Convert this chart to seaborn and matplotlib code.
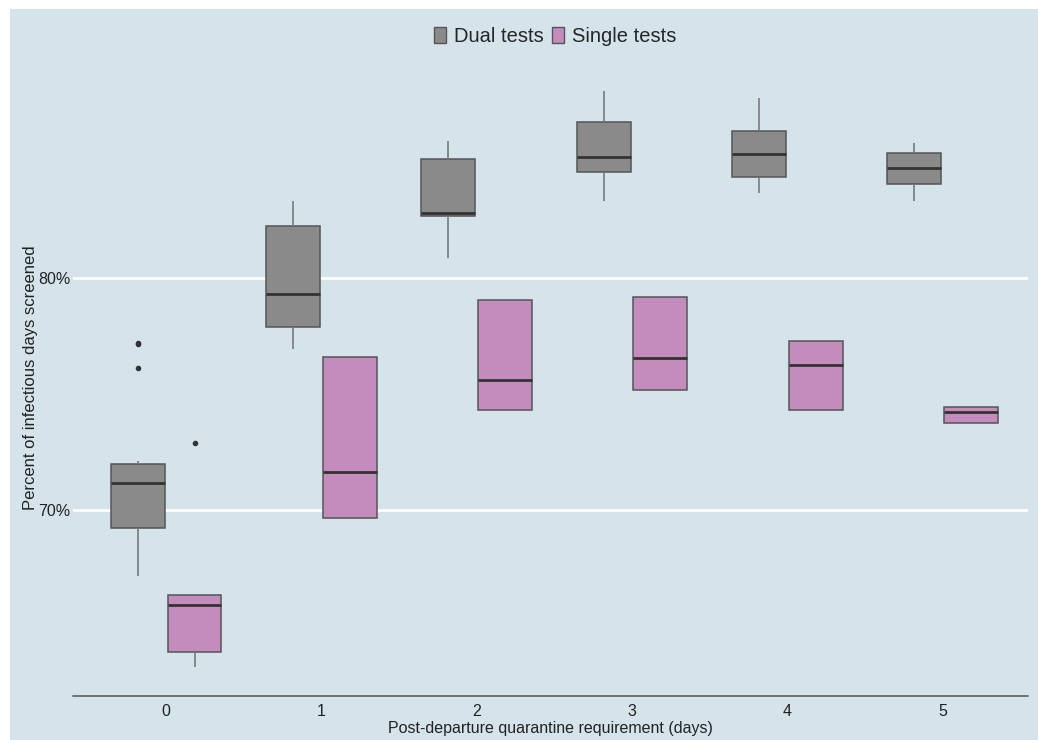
import numpy as np
import pandas as pd
import matplotlib.pyplot as plt
import seaborn as sns
from matplotlib.patches import Patch, Rectangle

# values (percent of infectious days screened)
days = [0, 1, 2, 3, 4, 5]

dual_low = [67.16, 76.93, 80.89, 83.33, 83.65, 83.32]
dual_q1 = [69.22, 77.88, 82.67, 84.57, 84.38, 84.04]
dual_med = [71.16, 79.34, 82.83, 85.22, 85.34, 84.74]
dual_q3 = [71.98, 82.25, 85.12, 86.74, 86.35, 85.40]
dual_high = [72.11, 83.32, 85.92, 88.05, 87.75, 85.81]
dual_out = [[76.15, 77.16, 77.20], [], [], [], [], []]

single_low = [63.26, 69.69, 74.33, 75.17, 74.34, 73.75]
single_q1 = [63.88, 69.69, 74.33, 75.17, 74.34, 73.75]
single_med = [65.91, 71.65, 75.62, 76.55, 76.28, 74.22]
single_q3 = [66.34, 76.61, 79.05, 79.18, 77.30, 74.47]
single_high = [66.34, 76.61, 79.05, 79.18, 77.30, 74.47]
single_out = [[72.88], [], [], [], [], []]

groups = ['Dual tests', 'Single tests']
colors = {'Dual tests': '#8a8a8a', 'Single tests': '#c48bbd'}


# repeat the read values so the box quartiles land exactly on them
def summary_rows(name, lo, q1, med, q3, hi, out):
    rows = []
    for i, d in enumerate(days):
        vals = [lo[i]] + [q1[i]] * 20 + [med[i]] * 20 + [q3[i]] * 20 + [hi[i]] + out[i]
        rows += [(d, name, v) for v in vals]
    return rows


rows = summary_rows('Dual tests', dual_low, dual_q1, dual_med, dual_q3, dual_high, dual_out)
rows += summary_rows('Single tests', single_low, single_q1, single_med, single_q3, single_high, single_out)
df = pd.DataFrame(rows, columns=['days', 'test', 'pct'])

sns.set_theme(style='white')
plt.rcParams['font.family'] = ['Liberation Sans', 'DejaVu Sans']

bg = '#d5e3ea'
fig = plt.figure(figsize=(10.38, 7.4), dpi=100)
fig.patch.set_facecolor('white')
fig.patches.append(Rectangle((10 / 1038, 0), 1 - 10 / 1038, 1 - 9 / 740,
                             transform=fig.transFigure, facecolor=bg,
                             edgecolor='none', zorder=-10))

ax = fig.add_axes([73 / 1038, 1 - 696 / 740, (1028 - 73) / 1038, (696 - 60) / 740])
ax.set_facecolor(bg)

sns.boxplot(data=df, x='days', y='pct', hue='test', hue_order=groups,
            palette=colors, saturation=1, width=0.73, gap=0.05,
            linecolor='#555555', linewidth=1.1, showcaps=False,
            whiskerprops=dict(color='#7a7a7a', linewidth=1.2),
            medianprops=dict(color='#333333', linewidth=2),
            flierprops=dict(marker='o', markersize=3, markerfacecolor='#333333',
                            markeredgecolor='#333333'),
            legend=False, ax=ax)

ax.set_ylim(62, 89.4)
ax.set_xlim(-0.6, 5.55)
ax.set_yticks([70, 80])
ax.set_yticklabels(['70%', '80%'], fontsize=11.5, color='#222222')
for v in [70, 80]:
    ax.axhline(v, color='white', linewidth=2, zorder=0)

for s in ['top', 'right', 'left']:
    ax.spines[s].set_visible(False)
ax.spines['bottom'].set_color('#555555')
ax.spines['bottom'].set_linewidth(1.1)
ax.tick_params(axis='y', length=0, pad=2)
ax.tick_params(axis='x', direction='in', length=5, color='#555555', pad=6)
for t in ax.get_xticklabels():
    t.set_fontsize(11.5)
    t.set_color('#222222')

ax.set_xlabel('Post-departure quarantine requirement (days)', fontsize=11.5,
              color='#222222', labelpad=1)
ax.set_ylabel('Percent of infectious days screened', fontsize=12, color='#222222',
              labelpad=0)

handles = [Patch(facecolor=colors[g], edgecolor='#555555', label=g) for g in groups]
fig.legend(handles=handles, loc='center', bbox_to_anchor=(0.535, 0.951), ncol=2,
           frameon=False, fontsize=14.5, handlelength=0.6, handleheight=0.9,
           handletextpad=0.4, columnspacing=0.4)

fig.savefig('out.png', dpi=100, facecolor=fig.get_facecolor())
